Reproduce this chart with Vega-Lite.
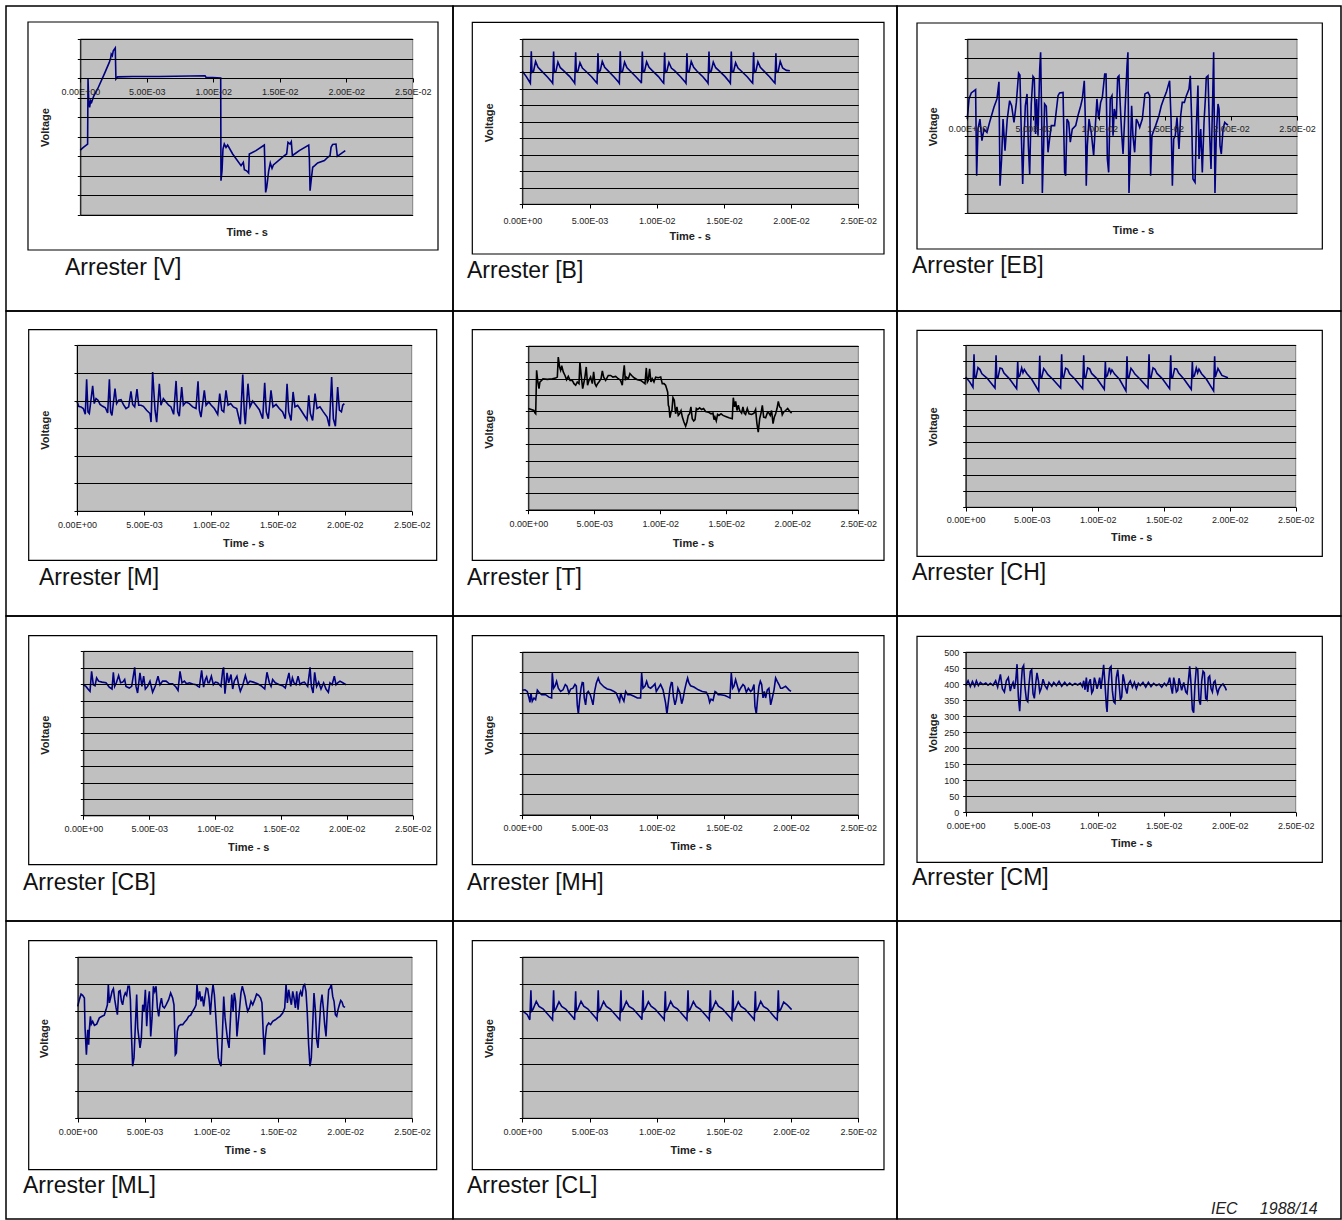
{
"$schema": "https://vega.github.io/schema/vega-lite/v6.json",
"padding": {"left": 5, "top": 5, "right": 0, "bottom": 0},
"background": "white",
"spacing": 0,
"bounds": "flush",
"columns": 3,
"config": {
  "view": {"stroke": "black", "strokeWidth": 1.5},
  "font": "Liberation Sans",
  "line": {"strokeWidth": 1.6},
  "axis": {"labelFont": "Liberation Sans", "labelFontSize": 9, "labelColor": "#222", "titleFont": "Liberation Sans", "titleFontSize": 11, "titleFontWeight": "bold", "titleColor": "#222", "domainColor": "black", "tickColor": "black", "gridColor": "black", "gridOpacity": 1, "gridWidth": 1, "labelFlush": false, "labelOverlap": false}
},
"datasets": {
"V": [{"t":0,"v":-3.69},{"t":0.00023,"v":-3.55},{"t":0.00055,"v":-3.38},{"t":0.00058,"v":-0.05},{"t":0.00063,"v":-1.07},{"t":0.0007,"v":-1.5},{"t":0.00078,"v":-1.16},{"t":0.00085,"v":-1.24},{"t":0.001,"v":-0.94},{"t":0.0013,"v":-0.56},{"t":0.00181,"v":0.21},{"t":0.00218,"v":0.8},{"t":0.00228,"v":1.01},{"t":0.00233,"v":1.23},{"t":0.00241,"v":1.15},{"t":0.00248,"v":1.4},{"t":0.00263,"v":1.54},{"t":0.00268,"v":-0.05},{"t":0.00281,"v":0.06},{"t":0.00394,"v":0.08},{"t":0.00594,"v":0.08},{"t":0.00938,"v":0.12},{"t":0.00945,"v":0.04},{"t":0.00995,"v":0.03},{"t":0.01056,"v":0.0},{"t":0.01058,"v":-5.26},{"t":0.01066,"v":-4.75},{"t":0.01073,"v":-3.64},{"t":0.01083,"v":-3.38},{"t":0.01096,"v":-3.55},{"t":0.01108,"v":-3.43},{"t":0.01146,"v":-3.89},{"t":0.01209,"v":-4.49},{"t":0.01226,"v":-4.32},{"t":0.01234,"v":-4.69},{"t":0.01251,"v":-4.75},{"t":0.01266,"v":-4.86},{"t":0.01271,"v":-3.89},{"t":0.01321,"v":-3.72},{"t":0.01384,"v":-3.43},{"t":0.01394,"v":-5.86},{"t":0.01402,"v":-5.6},{"t":0.01417,"v":-4.75},{"t":0.01429,"v":-4.35},{"t":0.01442,"v":-4.63},{"t":0.01452,"v":-4.45},{"t":0.01535,"v":-3.98},{"t":0.01552,"v":-3.89},{"t":0.01562,"v":-3.29},{"t":0.01577,"v":-3.38},{"t":0.01587,"v":-3.26},{"t":0.01595,"v":-3.98},{"t":0.01612,"v":-3.89},{"t":0.01647,"v":-3.72},{"t":0.01718,"v":-3.43},{"t":0.01723,"v":-4.15},{"t":0.01728,"v":-5.77},{"t":0.01738,"v":-5.14},{"t":0.01748,"v":-4.57},{"t":0.01763,"v":-4.49},{"t":0.01785,"v":-4.35},{"t":0.01836,"v":-4.23},{"t":0.01861,"v":-4.06},{"t":0.01878,"v":-3.98},{"t":0.01886,"v":-3.55},{"t":0.01898,"v":-3.4},{"t":0.01923,"v":-3.38},{"t":0.01933,"v":-4.01},{"t":0.01948,"v":-3.94},{"t":0.01993,"v":-3.72}],
"B": [{"t":0,"v":402},{"t":0.0003,"v":386},{"t":0.0006,"v":366},{"t":0.00067,"v":463},{"t":0.00072,"v":399},{"t":0.00084,"v":403},{"t":0.00099,"v":432},{"t":0.00117,"v":414},{"t":0.00141,"v":404},{"t":0.00187,"v":385},{"t":0.00221,"v":369},{"t":0.00226,"v":366},{"t":0.00233,"v":462},{"t":0.00238,"v":399},{"t":0.0025,"v":402},{"t":0.00265,"v":430},{"t":0.00283,"v":413},{"t":0.00307,"v":404},{"t":0.00353,"v":386},{"t":0.00387,"v":368},{"t":0.0039,"v":366},{"t":0.00397,"v":460},{"t":0.00402,"v":400},{"t":0.00414,"v":403},{"t":0.00429,"v":428},{"t":0.00447,"v":412},{"t":0.00471,"v":403},{"t":0.00517,"v":385},{"t":0.00551,"v":368},{"t":0.00556,"v":366},{"t":0.00563,"v":457},{"t":0.00568,"v":399},{"t":0.0058,"v":404},{"t":0.00595,"v":432},{"t":0.00613,"v":414},{"t":0.00637,"v":404},{"t":0.00683,"v":385},{"t":0.00717,"v":369},{"t":0.00722,"v":366},{"t":0.00729,"v":463},{"t":0.00734,"v":399},{"t":0.00746,"v":402},{"t":0.00761,"v":430},{"t":0.00779,"v":413},{"t":0.00803,"v":403},{"t":0.00849,"v":384},{"t":0.00883,"v":369},{"t":0.00886,"v":366},{"t":0.00893,"v":462},{"t":0.00898,"v":400},{"t":0.0091,"v":403},{"t":0.00925,"v":431},{"t":0.00943,"v":414},{"t":0.00967,"v":404},{"t":0.01013,"v":386},{"t":0.01047,"v":368},{"t":0.01052,"v":366},{"t":0.01059,"v":459},{"t":0.01064,"v":399},{"t":0.01076,"v":403},{"t":0.01091,"v":429},{"t":0.01109,"v":412},{"t":0.01133,"v":404},{"t":0.01179,"v":385},{"t":0.01213,"v":369},{"t":0.01218,"v":366},{"t":0.01225,"v":457},{"t":0.0123,"v":400},{"t":0.01242,"v":402},{"t":0.01257,"v":432},{"t":0.01275,"v":414},{"t":0.01299,"v":403},{"t":0.01345,"v":385},{"t":0.01379,"v":368},{"t":0.01382,"v":366},{"t":0.01389,"v":462},{"t":0.01394,"v":399},{"t":0.01406,"v":403},{"t":0.01421,"v":430},{"t":0.01439,"v":413},{"t":0.01463,"v":404},{"t":0.01509,"v":386},{"t":0.01543,"v":369},{"t":0.01548,"v":366},{"t":0.01555,"v":462},{"t":0.0156,"v":400},{"t":0.01572,"v":402},{"t":0.01587,"v":428},{"t":0.01605,"v":412},{"t":0.01629,"v":403},{"t":0.01675,"v":385},{"t":0.01709,"v":368},{"t":0.01714,"v":366},{"t":0.01721,"v":460},{"t":0.01726,"v":399},{"t":0.01738,"v":403},{"t":0.01753,"v":431},{"t":0.01771,"v":414},{"t":0.01795,"v":404},{"t":0.01841,"v":385},{"t":0.01875,"v":368},{"t":0.0188,"v":366},{"t":0.01887,"v":457},{"t":0.01892,"v":399},{"t":0.01904,"v":402},{"t":0.01919,"v":432},{"t":0.01937,"v":412},{"t":0.01965,"v":405},{"t":0.01991,"v":404}],
"EB": [{"t":0,"v":-14},{"t":0.00013,"v":90},{"t":0.0003,"v":121},{"t":0.00063,"v":138},{"t":0.00071,"v":-307},{"t":0.00081,"v":-66},{"t":0.00096,"v":-14},{"t":0.00111,"v":-126},{"t":0.00126,"v":-66},{"t":0.00149,"v":-83},{"t":0.00169,"v":-31},{"t":0.00202,"v":47},{"t":0.00225,"v":90},{"t":0.0024,"v":179},{"t":0.00248,"v":-359},{"t":0.0026,"v":-221},{"t":0.00271,"v":-14},{"t":0.00286,"v":-178},{"t":0.00303,"v":-14},{"t":0.00321,"v":81},{"t":0.00336,"v":55},{"t":0.00354,"v":-31},{"t":0.00372,"v":72},{"t":0.00389,"v":224},{"t":0.00399,"v":214},{"t":0.0041,"v":-100},{"t":0.0042,"v":-350},{"t":0.0043,"v":-117},{"t":0.0044,"v":55},{"t":0.00453,"v":116},{"t":0.00463,"v":-152},{"t":0.00473,"v":-298},{"t":0.00485,"v":64},{"t":0.00498,"v":207},{"t":0.00508,"v":197},{"t":0.00518,"v":-91},{"t":0.00526,"v":90},{"t":0.00536,"v":-100},{"t":0.00549,"v":245},{"t":0.00556,"v":331},{"t":0.00564,"v":-14},{"t":0.00569,"v":-397},{"t":0.00579,"v":-152},{"t":0.00586,"v":64},{"t":0.00599,"v":52},{"t":0.00612,"v":-186},{"t":0.00624,"v":-117},{"t":0.00637,"v":-48},{"t":0.00662,"v":-48},{"t":0.00688,"v":107},{"t":0.007,"v":121},{"t":0.00726,"v":124},{"t":0.00738,"v":-290},{"t":0.00746,"v":-307},{"t":0.00756,"v":-14},{"t":0.00769,"v":-31},{"t":0.00781,"v":-134},{"t":0.00796,"v":-66},{"t":0.00822,"v":-48},{"t":0.00839,"v":3},{"t":0.0086,"v":55},{"t":0.00872,"v":90},{"t":0.00887,"v":184},{"t":0.00895,"v":-14},{"t":0.00902,"v":-359},{"t":0.0091,"v":-152},{"t":0.00923,"v":-14},{"t":0.0094,"v":-83},{"t":0.00958,"v":-203},{"t":0.00971,"v":-48},{"t":0.00983,"v":90},{"t":0.00996,"v":-14},{"t":0.01011,"v":72},{"t":0.01024,"v":98},{"t":0.01042,"v":219},{"t":0.01052,"v":219},{"t":0.01062,"v":-221},{"t":0.01072,"v":-290},{"t":0.01084,"v":90},{"t":0.01097,"v":107},{"t":0.01105,"v":-100},{"t":0.01115,"v":38},{"t":0.0113,"v":-14},{"t":0.0114,"v":202},{"t":0.0115,"v":210},{"t":0.0116,"v":55},{"t":0.0117,"v":-83},{"t":0.01181,"v":-195},{"t":0.01201,"v":107},{"t":0.01211,"v":262},{"t":0.01218,"v":331},{"t":0.01226,"v":-397},{"t":0.01236,"v":-186},{"t":0.01246,"v":55},{"t":0.01256,"v":-100},{"t":0.01269,"v":-186},{"t":0.01282,"v":-14},{"t":0.01294,"v":-31},{"t":0.01307,"v":-57},{"t":0.01327,"v":-14},{"t":0.01347,"v":116},{"t":0.0137,"v":124},{"t":0.01383,"v":107},{"t":0.0139,"v":-307},{"t":0.014,"v":-100},{"t":0.01413,"v":-74},{"t":0.01428,"v":-48},{"t":0.01453,"v":3},{"t":0.01471,"v":55},{"t":0.01489,"v":90},{"t":0.01509,"v":124},{"t":0.01534,"v":184},{"t":0.01545,"v":-14},{"t":0.01555,"v":-359},{"t":0.01565,"v":-117},{"t":0.01577,"v":-100},{"t":0.0159,"v":-5},{"t":0.01605,"v":-169},{"t":0.01618,"v":3},{"t":0.0163,"v":72},{"t":0.01646,"v":72},{"t":0.01661,"v":107},{"t":0.01681,"v":141},{"t":0.01691,"v":210},{"t":0.01701,"v":-14},{"t":0.01711,"v":-324},{"t":0.01727,"v":-341},{"t":0.01737,"v":-48},{"t":0.01749,"v":159},{"t":0.01757,"v":-221},{"t":0.0177,"v":-66},{"t":0.01782,"v":-290},{"t":0.01795,"v":-31},{"t":0.01805,"v":90},{"t":0.01812,"v":202},{"t":0.01825,"v":210},{"t":0.01838,"v":-100},{"t":0.01848,"v":-272},{"t":0.0186,"v":72},{"t":0.01868,"v":331},{"t":0.01878,"v":-397},{"t":0.01888,"v":-100},{"t":0.01901,"v":64},{"t":0.01909,"v":38},{"t":0.01916,"v":-152},{"t":0.01926,"v":-195},{"t":0.01939,"v":-66},{"t":0.01952,"v":-31},{"t":0.01964,"v":-40},{"t":0.01977,"v":-45}],
"M": [{"t":0,"v":398},{"t":0.00012,"v":379},{"t":0.0003,"v":377},{"t":0.00047,"v":371},{"t":0.00062,"v":350},{"t":0.00072,"v":477},{"t":0.00082,"v":359},{"t":0.00092,"v":353},{"t":0.00117,"v":453},{"t":0.00129,"v":389},{"t":0.00142,"v":407},{"t":0.00157,"v":401},{"t":0.00172,"v":386},{"t":0.00192,"v":379},{"t":0.00212,"v":374},{"t":0.00229,"v":355},{"t":0.00242,"v":477},{"t":0.00251,"v":359},{"t":0.00261,"v":346},{"t":0.00284,"v":443},{"t":0.00296,"v":389},{"t":0.00311,"v":401},{"t":0.00329,"v":403},{"t":0.00346,"v":386},{"t":0.00366,"v":371},{"t":0.00386,"v":377},{"t":0.00403,"v":433},{"t":0.00416,"v":386},{"t":0.00431,"v":377},{"t":0.00448,"v":441},{"t":0.00461,"v":383},{"t":0.00478,"v":383},{"t":0.00496,"v":379},{"t":0.0052,"v":365},{"t":0.00545,"v":353},{"t":0.00553,"v":322},{"t":0.00565,"v":503},{"t":0.00583,"v":365},{"t":0.00595,"v":322},{"t":0.00615,"v":461},{"t":0.00627,"v":383},{"t":0.00645,"v":407},{"t":0.00665,"v":395},{"t":0.00685,"v":383},{"t":0.00702,"v":377},{"t":0.00722,"v":350},{"t":0.0074,"v":471},{"t":0.00752,"v":359},{"t":0.00764,"v":343},{"t":0.00782,"v":449},{"t":0.00794,"v":383},{"t":0.00814,"v":395},{"t":0.00839,"v":389},{"t":0.00864,"v":377},{"t":0.00889,"v":371},{"t":0.00904,"v":470},{"t":0.00914,"v":365},{"t":0.00926,"v":340},{"t":0.00951,"v":437},{"t":0.00964,"v":383},{"t":0.00984,"v":395},{"t":0.01003,"v":383},{"t":0.01026,"v":371},{"t":0.01051,"v":350},{"t":0.01066,"v":425},{"t":0.01081,"v":365},{"t":0.01096,"v":359},{"t":0.01113,"v":437},{"t":0.01128,"v":383},{"t":0.01148,"v":389},{"t":0.01168,"v":377},{"t":0.01193,"v":371},{"t":0.0122,"v":314},{"t":0.01238,"v":494},{"t":0.0125,"v":353},{"t":0.01257,"v":314},{"t":0.01277,"v":461},{"t":0.01292,"v":377},{"t":0.01312,"v":398},{"t":0.01337,"v":383},{"t":0.01362,"v":367},{"t":0.01387,"v":334},{"t":0.01402,"v":464},{"t":0.01414,"v":359},{"t":0.01429,"v":334},{"t":0.01449,"v":437},{"t":0.01464,"v":377},{"t":0.01487,"v":386},{"t":0.01511,"v":371},{"t":0.01536,"v":359},{"t":0.01556,"v":334},{"t":0.01569,"v":461},{"t":0.01581,"v":359},{"t":0.01599,"v":328},{"t":0.01614,"v":431},{"t":0.01628,"v":377},{"t":0.01648,"v":383},{"t":0.01673,"v":365},{"t":0.01698,"v":346},{"t":0.01718,"v":331},{"t":0.01731,"v":419},{"t":0.01743,"v":353},{"t":0.0176,"v":328},{"t":0.01778,"v":425},{"t":0.01793,"v":371},{"t":0.01815,"v":377},{"t":0.0184,"v":359},{"t":0.01868,"v":340},{"t":0.01885,"v":307},{"t":0.01902,"v":485},{"t":0.01915,"v":334},{"t":0.0193,"v":307},{"t":0.01947,"v":449},{"t":0.0196,"v":365},{"t":0.01975,"v":359},{"t":0.01985,"v":383},{"t":0.01997,"v":389}],
"T": [{"t":0,"v":309},{"t":0.00043,"v":303},{"t":0.00051,"v":295},{"t":0.00056,"v":293},{"t":0.00063,"v":426},{"t":0.00071,"v":395},{"t":0.00081,"v":370},{"t":0.00088,"v":390},{"t":0.00101,"v":395},{"t":0.00111,"v":400},{"t":0.00144,"v":398},{"t":0.00182,"v":400},{"t":0.00207,"v":402},{"t":0.0022,"v":405},{"t":0.00227,"v":466},{"t":0.00237,"v":436},{"t":0.00245,"v":426},{"t":0.00253,"v":440},{"t":0.00265,"v":421},{"t":0.00278,"v":410},{"t":0.0029,"v":397},{"t":0.00303,"v":407},{"t":0.00316,"v":395},{"t":0.00333,"v":395},{"t":0.00346,"v":385},{"t":0.00359,"v":380},{"t":0.00371,"v":390},{"t":0.00384,"v":385},{"t":0.00391,"v":451},{"t":0.00402,"v":405},{"t":0.00412,"v":370},{"t":0.00422,"v":390},{"t":0.00429,"v":405},{"t":0.00439,"v":436},{"t":0.00449,"v":380},{"t":0.0046,"v":395},{"t":0.00472,"v":405},{"t":0.00485,"v":385},{"t":0.00495,"v":421},{"t":0.00505,"v":385},{"t":0.00515,"v":377},{"t":0.00525,"v":385},{"t":0.00535,"v":390},{"t":0.00551,"v":400},{"t":0.00561,"v":424},{"t":0.00571,"v":405},{"t":0.00586,"v":395},{"t":0.00606,"v":410},{"t":0.00624,"v":410},{"t":0.00641,"v":405},{"t":0.00662,"v":407},{"t":0.00682,"v":400},{"t":0.00699,"v":395},{"t":0.00712,"v":380},{"t":0.0072,"v":416},{"t":0.00727,"v":441},{"t":0.00735,"v":395},{"t":0.00742,"v":405},{"t":0.00758,"v":400},{"t":0.0077,"v":416},{"t":0.00783,"v":410},{"t":0.00801,"v":403},{"t":0.00826,"v":397},{"t":0.00851,"v":395},{"t":0.00869,"v":390},{"t":0.00884,"v":385},{"t":0.00894,"v":433},{"t":0.00902,"v":390},{"t":0.00909,"v":395},{"t":0.00919,"v":430},{"t":0.00929,"v":390},{"t":0.00939,"v":400},{"t":0.00952,"v":390},{"t":0.00965,"v":405},{"t":0.00985,"v":403},{"t":0.01003,"v":405},{"t":0.01015,"v":385},{"t":0.01028,"v":385},{"t":0.0104,"v":380},{"t":0.01048,"v":370},{"t":0.01056,"v":359},{"t":0.01061,"v":319},{"t":0.01066,"v":314},{"t":0.01073,"v":281},{"t":0.01081,"v":298},{"t":0.01088,"v":303},{"t":0.01096,"v":342},{"t":0.01106,"v":334},{"t":0.01116,"v":293},{"t":0.01126,"v":314},{"t":0.01136,"v":288},{"t":0.01146,"v":293},{"t":0.01157,"v":303},{"t":0.01167,"v":283},{"t":0.01179,"v":268},{"t":0.01192,"v":255},{"t":0.01202,"v":268},{"t":0.01212,"v":288},{"t":0.01222,"v":293},{"t":0.01232,"v":314},{"t":0.01242,"v":278},{"t":0.01253,"v":271},{"t":0.01263,"v":275},{"t":0.01273,"v":309},{"t":0.01283,"v":306},{"t":0.01298,"v":311},{"t":0.01313,"v":306},{"t":0.01328,"v":309},{"t":0.01343,"v":300},{"t":0.01364,"v":298},{"t":0.01384,"v":293},{"t":0.01399,"v":295},{"t":0.01407,"v":275},{"t":0.01414,"v":283},{"t":0.01424,"v":271},{"t":0.01434,"v":291},{"t":0.01444,"v":288},{"t":0.0146,"v":293},{"t":0.01475,"v":288},{"t":0.01495,"v":285},{"t":0.0152,"v":281},{"t":0.01545,"v":278},{"t":0.01553,"v":342},{"t":0.01563,"v":314},{"t":0.01571,"v":331},{"t":0.01581,"v":303},{"t":0.01591,"v":319},{"t":0.01601,"v":303},{"t":0.01616,"v":295},{"t":0.01626,"v":314},{"t":0.01636,"v":295},{"t":0.01646,"v":291},{"t":0.01659,"v":309},{"t":0.01672,"v":293},{"t":0.01692,"v":291},{"t":0.0171,"v":295},{"t":0.01722,"v":306},{"t":0.01732,"v":263},{"t":0.01742,"v":237},{"t":0.01753,"v":278},{"t":0.01763,"v":295},{"t":0.01773,"v":319},{"t":0.01783,"v":283},{"t":0.01798,"v":281},{"t":0.01813,"v":298},{"t":0.01823,"v":295},{"t":0.01833,"v":288},{"t":0.01843,"v":303},{"t":0.01854,"v":263},{"t":0.01864,"v":283},{"t":0.01874,"v":293},{"t":0.01884,"v":309},{"t":0.01894,"v":331},{"t":0.01904,"v":314},{"t":0.01914,"v":311},{"t":0.01924,"v":290},{"t":0.01934,"v":298},{"t":0.01949,"v":303},{"t":0.01965,"v":309},{"t":0.0198,"v":301},{"t":0.01995,"v":295}],
"CH": [{"t":0,"v":402},{"t":0.0003,"v":387},{"t":0.00055,"v":370},{"t":0.00063,"v":472},{"t":0.00068,"v":402},{"t":0.00078,"v":400},{"t":0.00093,"v":431},{"t":0.00108,"v":425},{"t":0.00123,"v":412},{"t":0.00163,"v":398},{"t":0.00222,"v":368},{"t":0.0023,"v":469},{"t":0.00235,"v":402},{"t":0.00245,"v":401},{"t":0.0026,"v":430},{"t":0.00275,"v":428},{"t":0.0029,"v":414},{"t":0.0033,"v":397},{"t":0.00386,"v":366},{"t":0.00394,"v":450},{"t":0.00399,"v":402},{"t":0.00409,"v":405},{"t":0.00424,"v":430},{"t":0.00434,"v":415},{"t":0.00444,"v":425},{"t":0.00464,"v":412},{"t":0.005,"v":395},{"t":0.00553,"v":359},{"t":0.00561,"v":468},{"t":0.00566,"v":402},{"t":0.00576,"v":400},{"t":0.00591,"v":428},{"t":0.00606,"v":420},{"t":0.00621,"v":410},{"t":0.0066,"v":395},{"t":0.00719,"v":368},{"t":0.00727,"v":472},{"t":0.00732,"v":402},{"t":0.00742,"v":401},{"t":0.00757,"v":429},{"t":0.00772,"v":426},{"t":0.00787,"v":412},{"t":0.00827,"v":396},{"t":0.00886,"v":366},{"t":0.00894,"v":469},{"t":0.00899,"v":402},{"t":0.00909,"v":400},{"t":0.00924,"v":430},{"t":0.00939,"v":427},{"t":0.00954,"v":413},{"t":0.00994,"v":397},{"t":0.0105,"v":364},{"t":0.01058,"v":450},{"t":0.01063,"v":402},{"t":0.01073,"v":406},{"t":0.01088,"v":431},{"t":0.01098,"v":414},{"t":0.01108,"v":424},{"t":0.01128,"v":411},{"t":0.01165,"v":395},{"t":0.01214,"v":359},{"t":0.01222,"v":466},{"t":0.01227,"v":402},{"t":0.01237,"v":401},{"t":0.01252,"v":429},{"t":0.01267,"v":421},{"t":0.01282,"v":411},{"t":0.01322,"v":395},{"t":0.01381,"v":368},{"t":0.01389,"v":472},{"t":0.01394,"v":402},{"t":0.01404,"v":400},{"t":0.01419,"v":430},{"t":0.01434,"v":426},{"t":0.01449,"v":413},{"t":0.01489,"v":397},{"t":0.01545,"v":366},{"t":0.01553,"v":469},{"t":0.01558,"v":402},{"t":0.01568,"v":401},{"t":0.01583,"v":428},{"t":0.01598,"v":427},{"t":0.01613,"v":414},{"t":0.01653,"v":396},{"t":0.01709,"v":364},{"t":0.01717,"v":450},{"t":0.01722,"v":402},{"t":0.01732,"v":405},{"t":0.01747,"v":430},{"t":0.01757,"v":415},{"t":0.01767,"v":426},{"t":0.01787,"v":412},{"t":0.01824,"v":395},{"t":0.01878,"v":359},{"t":0.01886,"v":466},{"t":0.01891,"v":402},{"t":0.01911,"v":428},{"t":0.01941,"v":407},{"t":0.01987,"v":400}],
"CB": [{"t":0,"v":398},{"t":0.0002,"v":393},{"t":0.0004,"v":383},{"t":0.00051,"v":378},{"t":0.00063,"v":439},{"t":0.00076,"v":398},{"t":0.00089,"v":395},{"t":0.00101,"v":419},{"t":0.00116,"v":409},{"t":0.00142,"v":406},{"t":0.00172,"v":404},{"t":0.00197,"v":391},{"t":0.00218,"v":385},{"t":0.00228,"v":436},{"t":0.00238,"v":393},{"t":0.00251,"v":404},{"t":0.00268,"v":426},{"t":0.00283,"v":404},{"t":0.00299,"v":406},{"t":0.00314,"v":414},{"t":0.00324,"v":393},{"t":0.00349,"v":388},{"t":0.00367,"v":393},{"t":0.0039,"v":451},{"t":0.004,"v":393},{"t":0.00412,"v":373},{"t":0.0043,"v":434},{"t":0.00445,"v":393},{"t":0.00458,"v":424},{"t":0.00471,"v":385},{"t":0.00488,"v":393},{"t":0.00506,"v":409},{"t":0.00526,"v":375},{"t":0.00547,"v":395},{"t":0.00567,"v":424},{"t":0.00582,"v":398},{"t":0.00602,"v":409},{"t":0.00628,"v":409},{"t":0.00653,"v":401},{"t":0.00678,"v":401},{"t":0.00703,"v":391},{"t":0.00719,"v":381},{"t":0.00734,"v":439},{"t":0.00749,"v":404},{"t":0.00767,"v":409},{"t":0.00784,"v":401},{"t":0.00805,"v":404},{"t":0.0083,"v":400},{"t":0.00855,"v":398},{"t":0.0087,"v":393},{"t":0.00881,"v":391},{"t":0.00898,"v":442},{"t":0.00913,"v":391},{"t":0.00926,"v":414},{"t":0.00936,"v":422},{"t":0.00946,"v":404},{"t":0.00956,"v":404},{"t":0.00972,"v":424},{"t":0.00987,"v":398},{"t":0.01002,"v":406},{"t":0.0102,"v":404},{"t":0.01045,"v":393},{"t":0.01058,"v":442},{"t":0.01065,"v":451},{"t":0.01075,"v":371},{"t":0.01091,"v":434},{"t":0.01103,"v":404},{"t":0.01121,"v":429},{"t":0.01134,"v":385},{"t":0.01146,"v":409},{"t":0.01166,"v":424},{"t":0.01179,"v":398},{"t":0.01192,"v":378},{"t":0.01209,"v":395},{"t":0.0123,"v":426},{"t":0.01247,"v":401},{"t":0.01265,"v":409},{"t":0.0129,"v":406},{"t":0.01323,"v":401},{"t":0.01349,"v":395},{"t":0.01377,"v":385},{"t":0.01394,"v":436},{"t":0.01412,"v":404},{"t":0.01425,"v":393},{"t":0.01437,"v":414},{"t":0.01457,"v":404},{"t":0.01488,"v":398},{"t":0.01513,"v":395},{"t":0.01533,"v":388},{"t":0.01561,"v":434},{"t":0.01574,"v":393},{"t":0.01587,"v":419},{"t":0.01599,"v":404},{"t":0.01614,"v":398},{"t":0.0163,"v":424},{"t":0.01645,"v":398},{"t":0.0166,"v":404},{"t":0.01678,"v":406},{"t":0.01703,"v":393},{"t":0.01721,"v":451},{"t":0.01731,"v":393},{"t":0.01744,"v":373},{"t":0.01756,"v":436},{"t":0.01771,"v":393},{"t":0.01786,"v":406},{"t":0.01804,"v":385},{"t":0.01824,"v":404},{"t":0.01842,"v":385},{"t":0.0186,"v":375},{"t":0.01872,"v":404},{"t":0.01888,"v":398},{"t":0.01905,"v":424},{"t":0.01918,"v":398},{"t":0.01931,"v":404},{"t":0.01948,"v":409},{"t":0.01969,"v":404},{"t":0.01994,"v":398}],
"MH": [{"t":0,"v":406},{"t":0.0002,"v":407},{"t":0.00037,"v":403},{"t":0.0005,"v":387},{"t":0.00057,"v":376},{"t":0.00064,"v":399},{"t":0.00074,"v":379},{"t":0.00087,"v":387},{"t":0.00099,"v":383},{"t":0.00112,"v":406},{"t":0.00124,"v":401},{"t":0.00144,"v":395},{"t":0.00174,"v":395},{"t":0.00198,"v":389},{"t":0.00218,"v":387},{"t":0.00223,"v":448},{"t":0.00233,"v":411},{"t":0.00243,"v":416},{"t":0.00255,"v":428},{"t":0.00268,"v":411},{"t":0.00285,"v":403},{"t":0.00303,"v":407},{"t":0.0032,"v":420},{"t":0.00332,"v":416},{"t":0.00347,"v":399},{"t":0.0036,"v":409},{"t":0.00377,"v":411},{"t":0.00392,"v":420},{"t":0.00402,"v":416},{"t":0.00409,"v":370},{"t":0.00417,"v":348},{"t":0.00427,"v":383},{"t":0.00437,"v":411},{"t":0.00446,"v":425},{"t":0.00454,"v":424},{"t":0.00461,"v":387},{"t":0.00471,"v":370},{"t":0.00481,"v":399},{"t":0.00491,"v":403},{"t":0.00506,"v":395},{"t":0.00516,"v":383},{"t":0.00526,"v":370},{"t":0.00538,"v":403},{"t":0.00551,"v":424},{"t":0.00565,"v":436},{"t":0.00578,"v":424},{"t":0.0059,"v":420},{"t":0.00608,"v":414},{"t":0.00632,"v":409},{"t":0.00657,"v":407},{"t":0.00682,"v":403},{"t":0.00699,"v":399},{"t":0.00714,"v":387},{"t":0.00724,"v":379},{"t":0.00732,"v":399},{"t":0.00744,"v":387},{"t":0.00756,"v":379},{"t":0.00769,"v":403},{"t":0.00784,"v":395},{"t":0.00806,"v":395},{"t":0.00831,"v":391},{"t":0.00856,"v":387},{"t":0.0088,"v":387},{"t":0.00888,"v":448},{"t":0.00898,"v":411},{"t":0.00913,"v":416},{"t":0.00925,"v":428},{"t":0.00938,"v":414},{"t":0.00955,"v":411},{"t":0.00972,"v":416},{"t":0.00987,"v":422},{"t":0.00997,"v":403},{"t":0.01012,"v":411},{"t":0.01029,"v":420},{"t":0.01047,"v":407},{"t":0.01066,"v":375},{"t":0.01076,"v":348},{"t":0.01086,"v":375},{"t":0.01099,"v":411},{"t":0.01109,"v":425},{"t":0.01116,"v":424},{"t":0.01124,"v":391},{"t":0.01136,"v":370},{"t":0.01146,"v":383},{"t":0.01158,"v":411},{"t":0.01173,"v":399},{"t":0.01186,"v":373},{"t":0.01195,"v":383},{"t":0.01208,"v":407},{"t":0.0122,"v":424},{"t":0.0123,"v":436},{"t":0.0124,"v":424},{"t":0.01252,"v":417},{"t":0.01277,"v":414},{"t":0.0131,"v":407},{"t":0.01339,"v":403},{"t":0.01369,"v":401},{"t":0.01384,"v":391},{"t":0.01394,"v":376},{"t":0.01404,"v":384},{"t":0.01419,"v":381},{"t":0.01434,"v":403},{"t":0.01443,"v":401},{"t":0.01458,"v":395},{"t":0.01476,"v":395},{"t":0.01508,"v":393},{"t":0.01533,"v":389},{"t":0.01545,"v":387},{"t":0.01555,"v":448},{"t":0.01565,"v":411},{"t":0.01575,"v":416},{"t":0.01587,"v":432},{"t":0.01597,"v":420},{"t":0.01612,"v":403},{"t":0.01624,"v":411},{"t":0.01642,"v":420},{"t":0.01654,"v":416},{"t":0.01667,"v":401},{"t":0.01682,"v":411},{"t":0.01699,"v":403},{"t":0.01711,"v":407},{"t":0.01724,"v":420},{"t":0.01731,"v":366},{"t":0.01741,"v":348},{"t":0.01751,"v":387},{"t":0.01761,"v":416},{"t":0.01771,"v":428},{"t":0.01781,"v":420},{"t":0.01791,"v":387},{"t":0.01801,"v":403},{"t":0.0181,"v":387},{"t":0.01823,"v":407},{"t":0.01835,"v":411},{"t":0.01848,"v":370},{"t":0.0186,"v":387},{"t":0.01873,"v":407},{"t":0.01885,"v":436},{"t":0.01897,"v":428},{"t":0.0191,"v":420},{"t":0.01922,"v":411},{"t":0.01935,"v":411},{"t":0.01959,"v":416},{"t":0.01984,"v":407},{"t":0.01999,"v":403}],
"CM": [{"t":0,"v":395},{"t":0.00018,"v":410},{"t":0.00035,"v":392},{"t":0.00051,"v":408},{"t":0.00068,"v":393},{"t":0.00081,"v":410},{"t":0.00096,"v":395},{"t":0.00111,"v":405},{"t":0.00131,"v":398},{"t":0.00152,"v":403},{"t":0.00169,"v":396},{"t":0.00187,"v":402},{"t":0.00207,"v":396},{"t":0.00227,"v":410},{"t":0.00242,"v":390},{"t":0.00263,"v":430},{"t":0.00278,"v":385},{"t":0.00293,"v":375},{"t":0.00308,"v":410},{"t":0.00323,"v":420},{"t":0.00338,"v":378},{"t":0.00348,"v":395},{"t":0.00359,"v":405},{"t":0.00369,"v":385},{"t":0.00379,"v":410},{"t":0.00389,"v":462},{"t":0.00399,"v":360},{"t":0.00409,"v":315},{"t":0.00419,"v":390},{"t":0.00429,"v":450},{"t":0.00439,"v":458},{"t":0.00449,"v":390},{"t":0.0046,"v":350},{"t":0.0047,"v":345},{"t":0.0048,"v":400},{"t":0.0049,"v":440},{"t":0.005,"v":445},{"t":0.0051,"v":370},{"t":0.0052,"v":355},{"t":0.0053,"v":400},{"t":0.0054,"v":435},{"t":0.00551,"v":410},{"t":0.00561,"v":375},{"t":0.00571,"v":385},{"t":0.00586,"v":415},{"t":0.00601,"v":395},{"t":0.00616,"v":385},{"t":0.00631,"v":405},{"t":0.00652,"v":393},{"t":0.00667,"v":405},{"t":0.00687,"v":395},{"t":0.00707,"v":408},{"t":0.00727,"v":393},{"t":0.0075,"v":405},{"t":0.00768,"v":395},{"t":0.00788,"v":403},{"t":0.00808,"v":396},{"t":0.00828,"v":402},{"t":0.00848,"v":397},{"t":0.00869,"v":403},{"t":0.00884,"v":392},{"t":0.00894,"v":410},{"t":0.00904,"v":382},{"t":0.00914,"v":420},{"t":0.00924,"v":375},{"t":0.00934,"v":405},{"t":0.00944,"v":415},{"t":0.00955,"v":372},{"t":0.00965,"v":380},{"t":0.00975,"v":420},{"t":0.00985,"v":405},{"t":0.00995,"v":385},{"t":0.01005,"v":400},{"t":0.01015,"v":420},{"t":0.01025,"v":385},{"t":0.01035,"v":420},{"t":0.01045,"v":460},{"t":0.01056,"v":395},{"t":0.01066,"v":330},{"t":0.01071,"v":313},{"t":0.01081,"v":400},{"t":0.01091,"v":450},{"t":0.01101,"v":455},{"t":0.01111,"v":380},{"t":0.01121,"v":345},{"t":0.01131,"v":340},{"t":0.01141,"v":420},{"t":0.01152,"v":445},{"t":0.01162,"v":400},{"t":0.01172,"v":350},{"t":0.01182,"v":360},{"t":0.01192,"v":430},{"t":0.01202,"v":410},{"t":0.01212,"v":385},{"t":0.01222,"v":370},{"t":0.01232,"v":400},{"t":0.01247,"v":410},{"t":0.01263,"v":390},{"t":0.01278,"v":405},{"t":0.01293,"v":385},{"t":0.01308,"v":402},{"t":0.01323,"v":395},{"t":0.01343,"v":405},{"t":0.01364,"v":390},{"t":0.01384,"v":405},{"t":0.01404,"v":392},{"t":0.01424,"v":402},{"t":0.01444,"v":395},{"t":0.01465,"v":400},{"t":0.01485,"v":390},{"t":0.01505,"v":402},{"t":0.0152,"v":395},{"t":0.01535,"v":405},{"t":0.01545,"v":420},{"t":0.01556,"v":390},{"t":0.01566,"v":370},{"t":0.01576,"v":420},{"t":0.01586,"v":400},{"t":0.01596,"v":375},{"t":0.01606,"v":380},{"t":0.01616,"v":418},{"t":0.01626,"v":400},{"t":0.01636,"v":380},{"t":0.01652,"v":405},{"t":0.01667,"v":375},{"t":0.01677,"v":370},{"t":0.01687,"v":410},{"t":0.01697,"v":455},{"t":0.01707,"v":400},{"t":0.01717,"v":320},{"t":0.01727,"v":310},{"t":0.01737,"v":400},{"t":0.01747,"v":450},{"t":0.01758,"v":445},{"t":0.01768,"v":350},{"t":0.01778,"v":335},{"t":0.01788,"v":410},{"t":0.01798,"v":440},{"t":0.01808,"v":435},{"t":0.01818,"v":355},{"t":0.01828,"v":350},{"t":0.01838,"v":420},{"t":0.01848,"v":425},{"t":0.01859,"v":385},{"t":0.01869,"v":375},{"t":0.01879,"v":405},{"t":0.01889,"v":410},{"t":0.01899,"v":385},{"t":0.01909,"v":370},{"t":0.01919,"v":385},{"t":0.01934,"v":395},{"t":0.01949,"v":400},{"t":0.01965,"v":390},{"t":0.01975,"v":380}],
"ML": [{"t":0,"v":416},{"t":0.00012,"v":441},{"t":0.00025,"v":462},{"t":0.00037,"v":457},{"t":0.0005,"v":447},{"t":0.00055,"v":335},{"t":0.00065,"v":236},{"t":0.00075,"v":329},{"t":0.00082,"v":273},{"t":0.00087,"v":329},{"t":0.00095,"v":379},{"t":0.00102,"v":350},{"t":0.00112,"v":360},{"t":0.00125,"v":345},{"t":0.00142,"v":350},{"t":0.00162,"v":373},{"t":0.00182,"v":379},{"t":0.00199,"v":383},{"t":0.00212,"v":404},{"t":0.00222,"v":422},{"t":0.00229,"v":497},{"t":0.00237,"v":429},{"t":0.00247,"v":450},{"t":0.00257,"v":472},{"t":0.00267,"v":482},{"t":0.00277,"v":441},{"t":0.00287,"v":410},{"t":0.00297,"v":385},{"t":0.00307,"v":472},{"t":0.00317,"v":475},{"t":0.00327,"v":435},{"t":0.00336,"v":422},{"t":0.00346,"v":453},{"t":0.00356,"v":466},{"t":0.00366,"v":457},{"t":0.00376,"v":491},{"t":0.00386,"v":491},{"t":0.00394,"v":441},{"t":0.00401,"v":323},{"t":0.00411,"v":193},{"t":0.00421,"v":224},{"t":0.00431,"v":342},{"t":0.00441,"v":460},{"t":0.00449,"v":335},{"t":0.00459,"v":292},{"t":0.00466,"v":261},{"t":0.00476,"v":298},{"t":0.00486,"v":422},{"t":0.00496,"v":398},{"t":0.00506,"v":478},{"t":0.00516,"v":342},{"t":0.00526,"v":429},{"t":0.00536,"v":472},{"t":0.00546,"v":304},{"t":0.00556,"v":373},{"t":0.00566,"v":491},{"t":0.00576,"v":472},{"t":0.00586,"v":491},{"t":0.00596,"v":410},{"t":0.00606,"v":379},{"t":0.00616,"v":422},{"t":0.00626,"v":447},{"t":0.00636,"v":416},{"t":0.00648,"v":410},{"t":0.00661,"v":422},{"t":0.0068,"v":441},{"t":0.00695,"v":466},{"t":0.0071,"v":447},{"t":0.0072,"v":422},{"t":0.0073,"v":236},{"t":0.00738,"v":242},{"t":0.00745,"v":323},{"t":0.00755,"v":342},{"t":0.0077,"v":348},{"t":0.00785,"v":348},{"t":0.008,"v":358},{"t":0.00815,"v":366},{"t":0.0083,"v":379},{"t":0.00845,"v":383},{"t":0.0086,"v":398},{"t":0.00875,"v":410},{"t":0.00885,"v":422},{"t":0.00892,"v":497},{"t":0.00902,"v":441},{"t":0.00912,"v":472},{"t":0.00922,"v":435},{"t":0.00932,"v":453},{"t":0.00942,"v":416},{"t":0.00952,"v":453},{"t":0.00962,"v":484},{"t":0.00972,"v":481},{"t":0.00982,"v":447},{"t":0.00992,"v":385},{"t":0.01002,"v":453},{"t":0.01012,"v":497},{"t":0.01022,"v":460},{"t":0.01032,"v":385},{"t":0.01042,"v":304},{"t":0.01052,"v":224},{"t":0.01062,"v":205},{"t":0.01072,"v":193},{"t":0.01082,"v":310},{"t":0.01092,"v":453},{"t":0.01102,"v":373},{"t":0.01112,"v":329},{"t":0.01122,"v":286},{"t":0.01132,"v":261},{"t":0.01142,"v":366},{"t":0.01152,"v":460},{"t":0.01162,"v":398},{"t":0.01171,"v":466},{"t":0.01181,"v":435},{"t":0.01191,"v":304},{"t":0.01201,"v":360},{"t":0.01211,"v":410},{"t":0.01221,"v":466},{"t":0.01231,"v":491},{"t":0.01241,"v":472},{"t":0.01251,"v":453},{"t":0.01261,"v":422},{"t":0.01271,"v":398},{"t":0.01284,"v":410},{"t":0.01296,"v":435},{"t":0.01309,"v":422},{"t":0.01324,"v":441},{"t":0.01338,"v":462},{"t":0.01353,"v":457},{"t":0.01368,"v":447},{"t":0.01378,"v":429},{"t":0.01388,"v":310},{"t":0.01396,"v":236},{"t":0.01403,"v":298},{"t":0.01413,"v":342},{"t":0.01428,"v":354},{"t":0.01443,"v":348},{"t":0.01458,"v":360},{"t":0.01478,"v":366},{"t":0.01496,"v":373},{"t":0.01513,"v":379},{"t":0.01533,"v":391},{"t":0.01548,"v":410},{"t":0.01558,"v":497},{"t":0.01568,"v":429},{"t":0.01578,"v":478},{"t":0.01588,"v":447},{"t":0.01598,"v":422},{"t":0.01608,"v":472},{"t":0.01618,"v":447},{"t":0.01628,"v":410},{"t":0.01638,"v":472},{"t":0.01648,"v":404},{"t":0.01658,"v":460},{"t":0.01667,"v":472},{"t":0.01677,"v":453},{"t":0.01687,"v":491},{"t":0.01697,"v":497},{"t":0.01707,"v":472},{"t":0.01717,"v":391},{"t":0.01727,"v":273},{"t":0.01737,"v":193},{"t":0.01747,"v":224},{"t":0.01757,"v":342},{"t":0.01767,"v":466},{"t":0.01777,"v":404},{"t":0.01787,"v":292},{"t":0.01797,"v":261},{"t":0.01807,"v":342},{"t":0.01817,"v":422},{"t":0.01827,"v":460},{"t":0.01837,"v":410},{"t":0.01847,"v":348},{"t":0.01857,"v":304},{"t":0.01867,"v":404},{"t":0.01877,"v":478},{"t":0.01887,"v":484},{"t":0.01897,"v":497},{"t":0.01907,"v":453},{"t":0.01917,"v":435},{"t":0.01927,"v":385},{"t":0.01937,"v":379},{"t":0.01947,"v":404},{"t":0.01957,"v":422},{"t":0.01967,"v":438},{"t":0.01977,"v":432},{"t":0.01987,"v":416},{"t":0.01999,"v":412}],
"CL": [{"t":0,"v":400},{"t":0.00037,"v":385},{"t":0.00056,"v":366},{"t":0.00064,"v":476},{"t":0.00069,"v":398},{"t":0.00079,"v":404},{"t":0.00104,"v":435},{"t":0.00124,"v":416},{"t":0.00154,"v":407},{"t":0.00214,"v":373},{"t":0.00225,"v":366},{"t":0.00233,"v":476},{"t":0.00238,"v":398},{"t":0.00248,"v":404},{"t":0.00273,"v":433},{"t":0.00293,"v":416},{"t":0.00323,"v":406},{"t":0.00383,"v":372},{"t":0.00389,"v":366},{"t":0.00397,"v":472},{"t":0.00402,"v":398},{"t":0.00412,"v":405},{"t":0.00437,"v":435},{"t":0.00457,"v":417},{"t":0.00487,"v":407},{"t":0.00547,"v":373},{"t":0.00557,"v":366},{"t":0.00565,"v":476},{"t":0.0057,"v":398},{"t":0.0058,"v":404},{"t":0.00605,"v":434},{"t":0.00625,"v":416},{"t":0.00655,"v":406},{"t":0.00715,"v":372},{"t":0.00726,"v":366},{"t":0.00734,"v":476},{"t":0.00739,"v":398},{"t":0.00749,"v":404},{"t":0.00774,"v":435},{"t":0.00794,"v":416},{"t":0.00824,"v":407},{"t":0.00884,"v":373},{"t":0.0089,"v":366},{"t":0.00898,"v":476},{"t":0.00903,"v":398},{"t":0.00913,"v":405},{"t":0.00938,"v":433},{"t":0.00958,"v":417},{"t":0.00988,"v":406},{"t":0.01048,"v":372},{"t":0.01056,"v":366},{"t":0.01064,"v":472},{"t":0.01069,"v":398},{"t":0.01079,"v":404},{"t":0.01104,"v":435},{"t":0.01124,"v":416},{"t":0.01154,"v":407},{"t":0.01214,"v":373},{"t":0.01225,"v":366},{"t":0.01233,"v":476},{"t":0.01238,"v":398},{"t":0.01248,"v":404},{"t":0.01273,"v":434},{"t":0.01293,"v":416},{"t":0.01323,"v":406},{"t":0.01383,"v":372},{"t":0.01391,"v":366},{"t":0.01399,"v":476},{"t":0.01404,"v":398},{"t":0.01414,"v":405},{"t":0.01439,"v":435},{"t":0.01459,"v":417},{"t":0.01489,"v":407},{"t":0.01549,"v":373},{"t":0.01559,"v":366},{"t":0.01567,"v":476},{"t":0.01572,"v":398},{"t":0.01582,"v":404},{"t":0.01607,"v":433},{"t":0.01627,"v":416},{"t":0.01657,"v":406},{"t":0.01717,"v":372},{"t":0.01726,"v":366},{"t":0.01734,"v":472},{"t":0.01739,"v":398},{"t":0.01749,"v":404},{"t":0.01774,"v":435},{"t":0.01794,"v":416},{"t":0.01824,"v":407},{"t":0.01884,"v":372},{"t":0.01897,"v":366},{"t":0.01905,"v":476},{"t":0.0191,"v":398},{"t":0.01922,"v":404},{"t":0.01945,"v":432},{"t":0.0197,"v":422},{"t":0.02004,"v":404}]
},
"concat": [
{"width": 447, "height": 305, "layer": [
 {"data": {"values": [{}]}, "mark": {"type": "rect", "fill": "white", "stroke": "black", "strokeWidth": 1.2}, "encoding": {"x": {"datum": -0.003934, "type": "quantitative"}, "x2": {"datum": 0.026903}, "y": {"datum": 2.87, "type": "quantitative"}, "y2": {"datum": -8.808}}},
 {"data": {"values": [{}]}, "mark": {"type": "rect", "fill": "#c0c0c0", "stroke": "#808080", "strokeWidth": 1}, "encoding": {"x": {"datum": 0, "type": "quantitative"}, "x2": {"datum": 0.025}, "y": {"datum": -7, "type": "quantitative"}, "y2": {"datum": 2}}},
 {"data": {"name": "V"}, "mark": {"type": "line", "color": "#000080"},
  "encoding": {
   "x": {"field": "t", "type": "quantitative", "scale": {"domain": [0, 0.025], "range": [74.3, 406.7], "nice": false, "zero": false},
     "axis": {"zindex": 1, "tickCount": 30, "title": "Time - s", "values": [0, 0.005, 0.01, 0.015, 0.02, 0.025], "labelExpr": "replace(replace(upper(format(datum.value, '.2e')), 'E-', 'E-0'), 'E+', 'E+0')", "grid": false, "tickSize": 4, "labelPadding": 5.2, "offset": -233, "titleX": 240.7, "titleY": 154.3, "titleAlign": "center", "titleBaseline": "middle"}},
   "y": {"field": "v", "type": "quantitative", "scale": {"domain": [-7, 2], "range": [208.7, 33], "nice": false, "zero": false},
     "axis": {"zindex": 1, "tickCount": 30, "title": "Voltage", "values": [-7, -6, -5, -4, -3, -2, -1, 0, 1, 2], "labels": false, "grid": true, "tickSize": 3, "offset": -74.3, "titleX": -35.3, "titleY": 121, "titleAngle": 270, "titleAlign": "center", "titleBaseline": "middle"}}}},
 {"data": {"values": [{}]}, "mark": {"type": "text", "align": "left", "baseline": "middle", "fontSize": 23, "font": "Liberation Sans", "color": "#111", "text": "Arrester [V]"}, "encoding": {"x": {"datum": -0.001151, "type": "quantitative"}, "y": {"datum": -9.73, "type": "quantitative"}}}
]},
{"width": 444, "height": 305, "layer": [
 {"data": {"values": [{}]}, "mark": {"type": "rect", "fill": "white", "stroke": "black", "strokeWidth": 1.2}, "encoding": {"x": {"datum": -0.00372, "type": "quantitative"}, "x2": {"datum": 0.026911}, "y": {"datum": 550.6, "type": "quantitative"}, "y2": {"datum": -151.5}}},
 {"data": {"values": [{}]}, "mark": {"type": "rect", "fill": "#c0c0c0", "stroke": "#808080", "strokeWidth": 1}, "encoding": {"x": {"datum": 0, "type": "quantitative"}, "x2": {"datum": 0.025}, "y": {"datum": 0, "type": "quantitative"}, "y2": {"datum": 500}}},
 {"data": {"name": "B"}, "mark": {"type": "line", "color": "#000080"},
  "encoding": {
   "x": {"field": "t", "type": "quantitative", "scale": {"domain": [0, 0.025], "range": [69.3, 405.3], "nice": false, "zero": false},
     "axis": {"zindex": 1, "tickCount": 30, "title": "Time - s", "values": [0, 0.005, 0.01, 0.015, 0.02, 0.025], "labelExpr": "replace(replace(upper(format(datum.value, '.2e')), 'E-', 'E-0'), 'E+', 'E+0')", "grid": false, "tickSize": 4, "labelPadding": 8.2, "offset": -107, "titleX": 236.7, "titleY": 32.3, "titleAlign": "center", "titleBaseline": "middle"}},
   "y": {"field": "v", "type": "quantitative", "scale": {"domain": [0, 500], "range": [198, 33], "nice": false, "zero": false},
     "axis": {"zindex": 1, "tickCount": 30, "title": "Voltage", "values": [0, 50, 100, 150, 200, 250, 300, 350, 400, 450, 500], "labels": false, "grid": true, "tickSize": 3, "offset": -69.3, "titleX": -33.3, "titleY": 116.3, "titleAngle": 270, "titleAlign": "center", "titleBaseline": "middle"}}}},
 {"data": {"values": [{}]}, "mark": {"type": "text", "align": "left", "baseline": "middle", "fontSize": 23, "font": "Liberation Sans", "color": "#111", "text": "Arrester [B]"}, "encoding": {"x": {"datum": -0.004114, "type": "quantitative"}, "y": {"datum": -203, "type": "quantitative"}}}
]},
{"width": 444, "height": 305, "layer": [
 {"data": {"values": [{}]}, "mark": {"type": "rect", "fill": "white", "stroke": "black", "strokeWidth": 1.2}, "encoding": {"x": {"datum": -0.003814, "type": "quantitative"}, "x2": {"datum": 0.02692}, "y": {"datum": 482.8, "type": "quantitative"}, "y2": {"datum": -686.2}}},
 {"data": {"values": [{}]}, "mark": {"type": "rect", "fill": "#c0c0c0", "stroke": "#808080", "strokeWidth": 1}, "encoding": {"x": {"datum": 0, "type": "quantitative"}, "x2": {"datum": 0.025}, "y": {"datum": -500, "type": "quantitative"}, "y2": {"datum": 400}}},
 {"data": {"name": "EB"}, "mark": {"type": "line", "color": "#000080"},
  "encoding": {
   "x": {"field": "t", "type": "quantitative", "scale": {"domain": [0, 0.025], "range": [70.3, 400], "nice": false, "zero": false},
     "axis": {"zindex": 1, "tickCount": 30, "title": "Time - s", "values": [0, 0.005, 0.01, 0.015, 0.02, 0.025], "labelExpr": "replace(replace(upper(format(datum.value, '.2e')), 'E-', 'E-0'), 'E+', 'E+0')", "grid": false, "tickSize": 4, "labelPadding": 4.5, "offset": -195, "titleX": 236, "titleY": 114.3, "titleAlign": "center", "titleBaseline": "middle"}},
   "y": {"field": "v", "type": "quantitative", "scale": {"domain": [-500, 400], "range": [207, 33], "nice": false, "zero": false},
     "axis": {"zindex": 1, "tickCount": 30, "title": "Voltage", "values": [-500, -400, -300, -200, -100, 0, 100, 200, 300, 400], "labels": false, "grid": true, "tickSize": 3, "offset": -70.3, "titleX": -34.3, "titleY": 120.3, "titleAngle": 270, "titleAlign": "center", "titleBaseline": "middle"}}}},
 {"data": {"values": [{}]}, "mark": {"type": "text", "align": "left", "baseline": "middle", "fontSize": 23, "font": "Liberation Sans", "color": "#111", "text": "Arrester [EB]"}, "encoding": {"x": {"datum": -0.004193, "type": "quantitative"}, "y": {"datum": -774.1, "type": "quantitative"}}}
]},
{"width": 447, "height": 305, "layer": [
 {"data": {"values": [{}]}, "mark": {"type": "rect", "fill": "white", "stroke": "black", "strokeWidth": 1.2}, "encoding": {"x": {"datum": -0.003608, "type": "quantitative"}, "x2": {"datum": 0.026866}, "y": {"datum": 656.5, "type": "quantitative"}, "y2": {"datum": -178.5}}},
 {"data": {"values": [{}]}, "mark": {"type": "rect", "fill": "#c0c0c0", "stroke": "#808080", "strokeWidth": 1}, "encoding": {"x": {"datum": 0, "type": "quantitative"}, "x2": {"datum": 0.025}, "y": {"datum": 0, "type": "quantitative"}, "y2": {"datum": 600}}},
 {"data": {"name": "M"}, "mark": {"type": "line", "color": "#000080"},
  "encoding": {
   "x": {"field": "t", "type": "quantitative", "scale": {"domain": [0, 0.025], "range": [71, 405.7], "nice": false, "zero": false},
     "axis": {"zindex": 1, "tickCount": 30, "title": "Time - s", "values": [0, 0.005, 0.01, 0.015, 0.02, 0.025], "labelExpr": "replace(replace(upper(format(datum.value, '.2e')), 'E-', 'E-0'), 'E+', 'E+0')", "grid": false, "tickSize": 4, "labelPadding": 5.8, "offset": -105, "titleX": 237.3, "titleY": 32, "titleAlign": "center", "titleBaseline": "middle"}},
   "y": {"field": "v", "type": "quantitative", "scale": {"domain": [0, 600], "range": [200, 34.3], "nice": false, "zero": false},
     "axis": {"zindex": 1, "tickCount": 30, "title": "Voltage", "values": [0, 100, 200, 300, 400, 500, 600], "labels": false, "grid": true, "tickSize": 3, "offset": -71, "titleX": -32, "titleY": 118.7, "titleAngle": 270, "titleAlign": "center", "titleBaseline": "middle"}}}},
 {"data": {"values": [{}]}, "mark": {"type": "text", "align": "left", "baseline": "middle", "fontSize": 23, "font": "Liberation Sans", "color": "#111", "text": "Arrester [M]"}, "encoding": {"x": {"datum": -0.002838, "type": "quantitative"}, "y": {"datum": -242.6, "type": "quantitative"}}}
]},
{"width": 444, "height": 305, "layer": [
 {"data": {"values": [{}]}, "mark": {"type": "rect", "fill": "white", "stroke": "black", "strokeWidth": 1.2}, "encoding": {"x": {"datum": -0.004242, "type": "quantitative"}, "x2": {"datum": 0.026947}, "y": {"datum": 549.8, "type": "quantitative"}, "y2": {"datum": -154.6}}},
 {"data": {"values": [{}]}, "mark": {"type": "rect", "fill": "#c0c0c0", "stroke": "#808080", "strokeWidth": 1}, "encoding": {"x": {"datum": 0, "type": "quantitative"}, "x2": {"datum": 0.025}, "y": {"datum": 0, "type": "quantitative"}, "y2": {"datum": 500}}},
 {"data": {"name": "T"}, "mark": {"type": "line", "color": "#000000"},
  "encoding": {
   "x": {"field": "t", "type": "quantitative", "scale": {"domain": [0, 0.025], "range": [75.3, 405.3], "nice": false, "zero": false},
     "axis": {"zindex": 1, "tickCount": 30, "title": "Time - s", "values": [0, 0.005, 0.01, 0.015, 0.02, 0.025], "labelExpr": "replace(replace(upper(format(datum.value, '.2e')), 'E-', 'E-0'), 'E+', 'E+0')", "grid": false, "tickSize": 4, "labelPadding": 6.1, "offset": -106.3, "titleX": 240, "titleY": 33.3, "titleAlign": "center", "titleBaseline": "middle"}},
   "y": {"field": "v", "type": "quantitative", "scale": {"domain": [0, 500], "range": [198.7, 35], "nice": false, "zero": false},
     "axis": {"zindex": 1, "tickCount": 30, "title": "Voltage", "values": [0, 50, 100, 150, 200, 250, 300, 350, 400, 450, 500], "labels": false, "grid": true, "tickSize": 3, "offset": -75.3, "titleX": -39.3, "titleY": 117.7, "titleAngle": 270, "titleAlign": "center", "titleBaseline": "middle"}}}},
 {"data": {"values": [{}]}, "mark": {"type": "text", "align": "left", "baseline": "middle", "fontSize": 23, "font": "Liberation Sans", "color": "#111", "text": "Arrester [T]"}, "encoding": {"x": {"datum": -0.004644, "type": "quantitative"}, "y": {"datum": -208.6, "type": "quantitative"}}}
]},
{"width": 444, "height": 305, "layer": [
 {"data": {"values": [{}]}, "mark": {"type": "rect", "fill": "white", "stroke": "black", "strokeWidth": 1.2}, "encoding": {"x": {"datum": -0.003689, "type": "quantitative"}, "x2": {"datum": 0.027015}, "y": {"datum": 546.4, "type": "quantitative"}, "y2": {"datum": -152.4}}},
 {"data": {"values": [{}]}, "mark": {"type": "rect", "fill": "#c0c0c0", "stroke": "#808080", "strokeWidth": 1}, "encoding": {"x": {"datum": 0, "type": "quantitative"}, "x2": {"datum": 0.025}, "y": {"datum": 0, "type": "quantitative"}, "y2": {"datum": 500}}},
 {"data": {"name": "CH"}, "mark": {"type": "line", "color": "#000080"},
  "encoding": {
   "x": {"field": "t", "type": "quantitative", "scale": {"domain": [0, 0.025], "range": [68.7, 398.7], "nice": false, "zero": false},
     "axis": {"zindex": 1, "tickCount": 30, "title": "Time - s", "values": [0, 0.005, 0.01, 0.015, 0.02, 0.025], "labelExpr": "replace(replace(upper(format(datum.value, '.2e')), 'E-', 'E-0'), 'E+', 'E+0')", "grid": false, "tickSize": 4, "labelPadding": 4.8, "offset": -109, "titleX": 234.3, "titleY": 30.7, "titleAlign": "center", "titleBaseline": "middle"}},
   "y": {"field": "v", "type": "quantitative", "scale": {"domain": [0, 500], "range": [196, 34.3], "nice": false, "zero": false},
     "axis": {"zindex": 1, "tickCount": 30, "title": "Voltage", "values": [0, 50, 100, 150, 200, 250, 300, 350, 400, 450, 500], "labels": false, "grid": true, "tickSize": 3, "offset": -68.7, "titleX": -32.7, "titleY": 115.3, "titleAngle": 270, "titleAlign": "center", "titleBaseline": "middle"}}}},
 {"data": {"values": [{}]}, "mark": {"type": "text", "align": "left", "baseline": "middle", "fontSize": 23, "font": "Liberation Sans", "color": "#111", "text": "Arrester [CH]"}, "encoding": {"x": {"datum": -0.004068, "type": "quantitative"}, "y": {"datum": -204.1, "type": "quantitative"}}}
]},
{"width": 447, "height": 305, "layer": [
 {"data": {"values": [{}]}, "mark": {"type": "rect", "fill": "white", "stroke": "black", "strokeWidth": 1.2}, "encoding": {"x": {"datum": -0.004144, "type": "quantitative"}, "x2": {"datum": 0.026823}, "y": {"datum": 547.6, "type": "quantitative"}, "y2": {"datum": -150.6}}},
 {"data": {"values": [{}]}, "mark": {"type": "rect", "fill": "#c0c0c0", "stroke": "#808080", "strokeWidth": 1}, "encoding": {"x": {"datum": 0, "type": "quantitative"}, "x2": {"datum": 0.025}, "y": {"datum": 0, "type": "quantitative"}, "y2": {"datum": 500}}},
 {"data": {"name": "CB"}, "mark": {"type": "line", "color": "#000080"},
  "encoding": {
   "x": {"field": "t", "type": "quantitative", "scale": {"domain": [0, 0.025], "range": [77.3, 406.7], "nice": false, "zero": false},
     "axis": {"zindex": 1, "tickCount": 30, "title": "Time - s", "values": [0, 0.005, 0.01, 0.015, 0.02, 0.025], "labelExpr": "replace(replace(upper(format(datum.value, '.2e')), 'E-', 'E-0'), 'E+', 'E+0')", "grid": false, "tickSize": 4, "labelPadding": 5.2, "offset": -105.7, "titleX": 242.3, "titleY": 32, "titleAlign": "center", "titleBaseline": "middle"}},
   "y": {"field": "v", "type": "quantitative", "scale": {"domain": [0, 500], "range": [199.3, 35.3], "nice": false, "zero": false},
     "axis": {"zindex": 1, "tickCount": 30, "title": "Voltage", "values": [0, 50, 100, 150, 200, 250, 300, 350, 400, 450, 500], "labels": false, "grid": true, "tickSize": 3, "offset": -77.3, "titleX": -38.3, "titleY": 118.7, "titleAngle": 270, "titleAlign": "center", "titleBaseline": "middle"}}}},
 {"data": {"values": [{}]}, "mark": {"type": "text", "align": "left", "baseline": "middle", "fontSize": 23, "font": "Liberation Sans", "color": "#111", "text": "Arrester [CB]"}, "encoding": {"x": {"datum": -0.004577, "type": "quantitative"}, "y": {"datum": -206.4, "type": "quantitative"}}}
]},
{"width": 444, "height": 305, "layer": [
 {"data": {"values": [{}]}, "mark": {"type": "rect", "fill": "white", "stroke": "black", "strokeWidth": 1.2}, "encoding": {"x": {"datum": -0.00372, "type": "quantitative"}, "x2": {"datum": 0.026911}, "y": {"datum": 540.1, "type": "quantitative"}, "y2": {"datum": -22.9}}},
 {"data": {"values": [{}]}, "mark": {"type": "rect", "fill": "#c0c0c0", "stroke": "#808080", "strokeWidth": 1}, "encoding": {"x": {"datum": 0, "type": "quantitative"}, "x2": {"datum": 0.025}, "y": {"datum": 100, "type": "quantitative"}, "y2": {"datum": 500}}},
 {"data": {"name": "MH"}, "mark": {"type": "line", "color": "#000080"},
  "encoding": {
   "x": {"field": "t", "type": "quantitative", "scale": {"domain": [0, 0.025], "range": [69.3, 405.3], "nice": false, "zero": false},
     "axis": {"zindex": 1, "tickCount": 30, "title": "Time - s", "values": [0, 0.005, 0.01, 0.015, 0.02, 0.025], "labelExpr": "replace(replace(upper(format(datum.value, '.2e')), 'E-', 'E-0'), 'E+', 'E+0')", "grid": false, "tickSize": 4, "labelPadding": 4.5, "offset": -106.3, "titleX": 237.7, "titleY": 31.6, "titleAlign": "center", "titleBaseline": "middle"}},
   "y": {"field": "v", "type": "quantitative", "scale": {"domain": [100, 500], "range": [198.7, 36], "nice": false, "zero": false},
     "axis": {"zindex": 1, "tickCount": 30, "title": "Voltage", "values": [100, 150, 200, 250, 300, 350, 400, 450, 500], "labels": false, "grid": true, "tickSize": 3, "offset": -69.3, "titleX": -33.3, "titleY": 118.7, "titleAngle": 270, "titleAlign": "center", "titleBaseline": "middle"}}}},
 {"data": {"values": [{}]}, "mark": {"type": "text", "align": "left", "baseline": "middle", "fontSize": 23, "font": "Liberation Sans", "color": "#111", "text": "Arrester [MH]"}, "encoding": {"x": {"datum": -0.004114, "type": "quantitative"}, "y": {"datum": -67.9, "type": "quantitative"}}}
]},
{"width": 444, "height": 305, "layer": [
 {"data": {"values": [{}]}, "mark": {"type": "rect", "fill": "white", "stroke": "black", "strokeWidth": 1.2}, "encoding": {"x": {"datum": -0.003689, "type": "quantitative"}, "x2": {"datum": 0.027015}, "y": {"datum": 549.1, "type": "quantitative"}, "y2": {"datum": -157.2}}},
 {"data": {"values": [{}]}, "mark": {"type": "rect", "fill": "#c0c0c0", "stroke": "#808080", "strokeWidth": 1}, "encoding": {"x": {"datum": 0, "type": "quantitative"}, "x2": {"datum": 0.025}, "y": {"datum": 0, "type": "quantitative"}, "y2": {"datum": 500}}},
 {"data": {"name": "CM"}, "mark": {"type": "line", "color": "#000080"},
  "encoding": {
   "x": {"field": "t", "type": "quantitative", "scale": {"domain": [0, 0.025], "range": [68.7, 398.7], "nice": false, "zero": false},
     "axis": {"zindex": 1, "tickCount": 30, "title": "Time - s", "values": [0, 0.005, 0.01, 0.015, 0.02, 0.025], "labelExpr": "replace(replace(upper(format(datum.value, '.2e')), 'E-', 'E-0'), 'E+', 'E+0')", "grid": false, "tickSize": 4, "labelPadding": 5.2, "offset": -109, "titleX": 234.3, "titleY": 31.7, "titleAlign": "center", "titleBaseline": "middle"}},
   "y": {"field": "v", "type": "quantitative", "scale": {"domain": [0, 500], "range": [196, 36], "nice": false, "zero": false},
     "axis": {"zindex": 1, "tickCount": 30, "title": "Voltage", "values": [0, 50, 100, 150, 200, 250, 300, 350, 400, 450, 500], "labels": true, "grid": true, "tickSize": 3, "labelPadding": 4, "offset": -68.7, "titleX": -32.7, "titleY": 116.3, "titleAngle": 270, "titleAlign": "center", "titleBaseline": "middle"}}}},
 {"data": {"values": [{}]}, "mark": {"type": "text", "align": "left", "baseline": "middle", "fontSize": 23, "font": "Liberation Sans", "color": "#111", "text": "Arrester [CM]"}, "encoding": {"x": {"datum": -0.004068, "type": "quantitative"}, "y": {"datum": -206.3, "type": "quantitative"}}}
]},
{"width": 447, "height": 298, "layer": [
 {"data": {"values": [{}]}, "mark": {"type": "rect", "fill": "white", "stroke": "black", "strokeWidth": 1.2}, "encoding": {"x": {"datum": -0.003664, "type": "quantitative"}, "x2": {"datum": 0.026846}, "y": {"datum": 660.8, "type": "quantitative"}, "y2": {"datum": -192.7}}},
 {"data": {"values": [{}]}, "mark": {"type": "rect", "fill": "#c0c0c0", "stroke": "#808080", "strokeWidth": 1}, "encoding": {"x": {"datum": 0, "type": "quantitative"}, "x2": {"datum": 0.025}, "y": {"datum": 0, "type": "quantitative"}, "y2": {"datum": 600}}},
 {"data": {"name": "ML"}, "mark": {"type": "line", "color": "#000080"},
  "encoding": {
   "x": {"field": "t", "type": "quantitative", "scale": {"domain": [0, 0.025], "range": [71.7, 406], "nice": false, "zero": false},
     "axis": {"zindex": 1, "tickCount": 30, "title": "Time - s", "values": [0, 0.005, 0.01, 0.015, 0.02, 0.025], "labelExpr": "replace(replace(upper(format(datum.value, '.2e')), 'E-', 'E-0'), 'E+', 'E+0')", "grid": false, "tickSize": 4, "labelPadding": 5.5, "offset": -101, "titleX": 239, "titleY": 32, "titleAlign": "center", "titleBaseline": "middle"}},
   "y": {"field": "v", "type": "quantitative", "scale": {"domain": [0, 600], "range": [197, 36], "nice": false, "zero": false},
     "axis": {"zindex": 1, "tickCount": 30, "title": "Voltage", "values": [0, 100, 200, 300, 400, 500, 600], "labels": false, "grid": true, "tickSize": 3, "offset": -71.7, "titleX": -32.7, "titleY": 117, "titleAngle": 270, "titleAlign": "center", "titleBaseline": "middle"}}}},
 {"data": {"values": [{}]}, "mark": {"type": "text", "align": "left", "baseline": "middle", "fontSize": 23, "font": "Liberation Sans", "color": "#111", "text": "Arrester [ML]"}, "encoding": {"x": {"datum": -0.00409, "type": "quantitative"}, "y": {"datum": -253.4, "type": "quantitative"}}}
]},
{"width": 444, "height": 298, "layer": [
 {"data": {"values": [{}]}, "mark": {"type": "rect", "fill": "white", "stroke": "black", "strokeWidth": 1.2}, "encoding": {"x": {"datum": -0.00372, "type": "quantitative"}, "x2": {"datum": 0.026911}, "y": {"datum": 660.8, "type": "quantitative"}, "y2": {"datum": -192.7}}},
 {"data": {"values": [{}]}, "mark": {"type": "rect", "fill": "#c0c0c0", "stroke": "#808080", "strokeWidth": 1}, "encoding": {"x": {"datum": 0, "type": "quantitative"}, "x2": {"datum": 0.025}, "y": {"datum": 0, "type": "quantitative"}, "y2": {"datum": 600}}},
 {"data": {"name": "CL"}, "mark": {"type": "line", "color": "#000080"},
  "encoding": {
   "x": {"field": "t", "type": "quantitative", "scale": {"domain": [0, 0.025], "range": [69.3, 405.3], "nice": false, "zero": false},
     "axis": {"zindex": 1, "tickCount": 30, "title": "Time - s", "values": [0, 0.005, 0.01, 0.015, 0.02, 0.025], "labelExpr": "replace(replace(upper(format(datum.value, '.2e')), 'E-', 'E-0'), 'E+', 'E+0')", "grid": false, "tickSize": 4, "labelPadding": 5.5, "offset": -101, "titleX": 237.7, "titleY": 32, "titleAlign": "center", "titleBaseline": "middle"}},
   "y": {"field": "v", "type": "quantitative", "scale": {"domain": [0, 600], "range": [197, 36], "nice": false, "zero": false},
     "axis": {"zindex": 1, "tickCount": 30, "title": "Voltage", "values": [0, 100, 200, 300, 400, 500, 600], "labels": false, "grid": true, "tickSize": 3, "offset": -69.3, "titleX": -33.3, "titleY": 117, "titleAngle": 270, "titleAlign": "center", "titleBaseline": "middle"}}}},
 {"data": {"values": [{}]}, "mark": {"type": "text", "align": "left", "baseline": "middle", "fontSize": 23, "font": "Liberation Sans", "color": "#111", "text": "Arrester [CL]"}, "encoding": {"x": {"datum": -0.004114, "type": "quantitative"}, "y": {"datum": -253.4, "type": "quantitative"}}}
]},
{"width": 444, "height": 298,
 "data": {"values": [{"s": "IEC\u00a0\u00a0\u00a0\u00a0\u00a01988/14"}]},
 "mark": {"type": "text", "align": "right", "baseline": "middle", "font": "Liberation Sans", "fontSize": 16, "fontStyle": "italic", "color": "#222"},
 "encoding": {"text": {"field": "s"},
   "x": {"datum": 1, "type": "quantitative", "scale": {"domain": [0, 1], "range": [0, 420.7]}, "axis": null},
   "y": {"datum": 0, "type": "quantitative", "scale": {"domain": [0, 1], "range": [288, 0]}, "axis": null}}}
]
}
